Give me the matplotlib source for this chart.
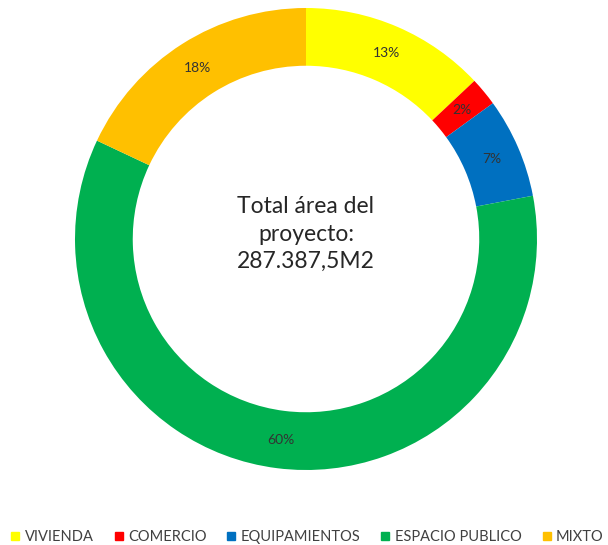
import matplotlib.pyplot as plt
from matplotlib.lines import Line2D

# Distribución de usos del suelo (%)
categorias = ['VIVIENDA', 'COMERCIO', 'EQUIPAMIENTOS', 'ESPACIO PUBLICO', 'MIXTO']
porcentajes = [13, 2, 7, 60, 18]
colores = ['#FFFF00', '#FF0000', '#0070C0', '#00B050', '#FFC000']
texto_centro = 'Total área del\nproyecto:\n287.387,5M2'

plt.rcParams['font.family'] = ['Lato', 'DejaVu Sans']

fig = plt.figure(figsize=(6.08, 5.45), dpi=100)
ax = fig.add_axes([75 / 608, 75 / 545, 462 / 608, 462 / 545])

ancho = 0.25
wedges, textos, pct = ax.pie(
    porcentajes, colors=colores, startangle=90, counterclock=False,
    radius=1, wedgeprops=dict(width=ancho, linewidth=0),
    autopct='%1.0f%%', pctdistance=1 - ancho / 2,
    textprops=dict(fontsize=10, color='#333333'))

ax.text(0, 0.02, texto_centro, ha='center', va='center', fontsize=16.5,
        color='#262626', linespacing=1.38)

ax.set_xlim(-1, 1)
ax.set_ylim(-1, 1)
ax.set_aspect('equal')
ax.axis('off')

# Leyenda inferior con marcadores cuadrados
handles = [Line2D([], [], marker='s', linestyle='', markersize=6,
                  markerfacecolor=c, markeredgecolor=c) for c in colores]
fig.legend(handles, categorias, loc='center', bbox_to_anchor=(0.505, 8 / 545),
           ncol=5, frameon=False, fontsize=10.5, handletextpad=0.3,
           columnspacing=1.35, handlelength=0.7, labelcolor='#404040')

fig.savefig('out.png', dpi=100)
